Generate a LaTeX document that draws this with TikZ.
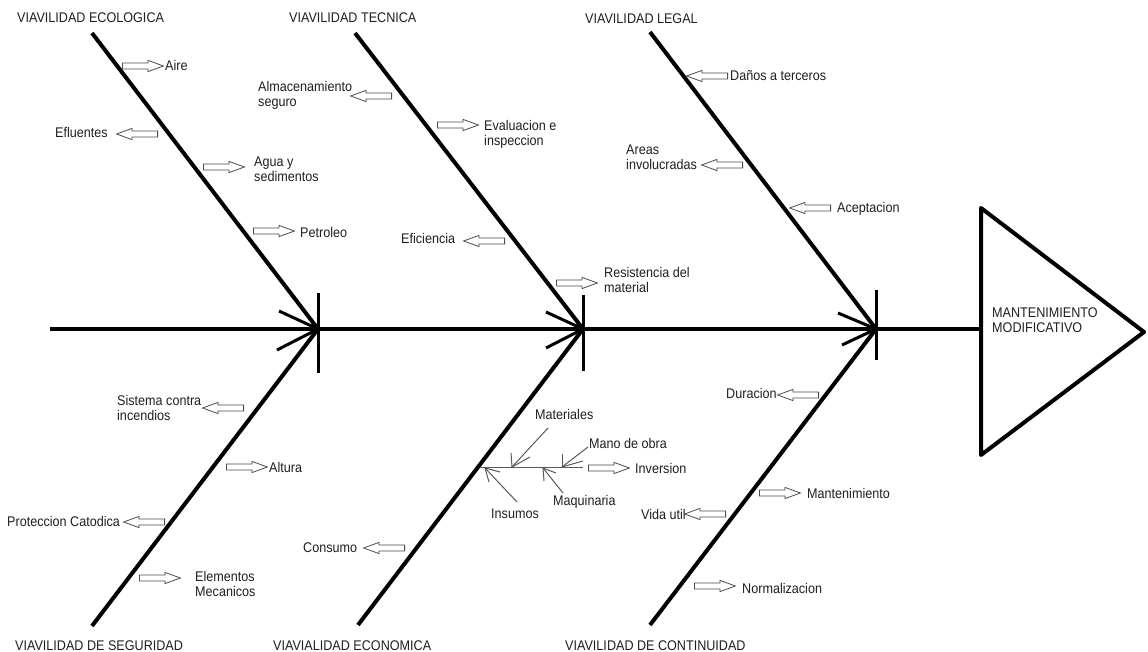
\documentclass[tikz,border=0pt]{standalone}
\usepackage{fontspec}
\setmainfont{Liberation Sans}[FakeStretch=0.9]
\usetikzlibrary{shapes.arrows}
\begin{document}
\begin{tikzpicture}[x=1pt,y=-1pt,
  bone/.style={line width=4pt},
  barb/.style={line width=3pt},
  subbone/.style={line width=1pt, draw=black!65},
  lbl/.style={anchor=base west, inner sep=0pt, text=black!88, font=\fontsize{14}{15}\selectfont, align=left},
  blk/.style={single arrow, draw=black!70, fill=white, line width=0.8pt, minimum height=41pt, inner xsep=0pt, inner ysep=2.6pt, single arrow head extend=2.6pt, single arrow tip angle=40, anchor=tail},
  blkL/.style={blk, shape border rotate=180}]
\useasboundingbox (0,0) rectangle (1148,652);
\fill[white] (0,0) rectangle (1148,652);
% coordinates
\coordinate (S0) at (50,329);
\coordinate (TL) at (981,329);
\coordinate (TA) at (981,208);
\coordinate (TB) at (1144,332);
\coordinate (TC) at (981,455);
\coordinate (J1) at (318,329);
\coordinate (J2) at (583,329);
\coordinate (J3) at (876,329);
\coordinate (U1) at (92,33);
\coordinate (U2) at (355,33);
\coordinate (U3) at (650,32);
\coordinate (D1) at (92,626);
\coordinate (D2) at (358,625);
\coordinate (D3) at (650,625);
% spine and triangle
\draw[bone] (S0) -- (TL);
\draw[bone, line join=round] (TA) -- (TB) -- (TC) -- cycle;
% bones
\draw[bone] (U1) -- (J1);
\draw[bone] (U2) -- (J2);
\draw[bone] (U3) -- (J3);
\draw[bone] (D1) -- (J1);
\draw[bone] (D2) -- (J2);
\draw[bone] (D3) -- (J3);
% ticks and barbs
\coordinate (J1t) at (318,293); \coordinate (J1d) at (318,373);
\coordinate (J2t) at (583,295); \coordinate (J2d) at (583,371);
\coordinate (J3t) at (876,290); \coordinate (J3d) at (876,360);
\draw[barb] (J1t) -- (J1d);
\draw[barb] (J2t) -- (J2d);
\draw[barb] (J3t) -- (J3d);
\coordinate (J1a) at (279,311); \coordinate (J1b) at (277,350);
\coordinate (J2a) at (546,312); \coordinate (J2b) at (546,348);
\coordinate (J3a) at (838,313); \coordinate (J3b) at (842,345);
\draw[barb] (J1a) -- (J1); \draw[barb] (J1b) -- (J1);
\draw[barb] (J2a) -- (J2); \draw[barb] (J2b) -- (J2);
\draw[barb] (J3a) -- (J3); \draw[barb] (J3b) -- (J3);
% sub fishbone (economica)
\coordinate (E0) at (480,467);
\coordinate (E1) at (583,467);
\draw[subbone] (E0) -- (E1);
\coordinate (MtA) at (548,428); \coordinate (MtT) at (512,467);
\coordinate (MtB1) at (511,453); \coordinate (MtB2) at (530,457);
\draw[subbone] (MtA) -- (MtT); \draw[subbone] (MtB1) -- (MtT); \draw[subbone] (MtB2) -- (MtT);
\coordinate (MoA) at (588,447); \coordinate (MoT) at (562,467);
\coordinate (MoB1) at (562,454); \coordinate (MoB2) at (583,461);
\draw[subbone] (MoA) -- (MoT); \draw[subbone] (MoB1) -- (MoT); \draw[subbone] (MoB2) -- (MoT);
\coordinate (InA) at (517,502); \coordinate (InT) at (485,468);
\coordinate (InB1) at (489,482); \coordinate (InB2) at (500,472);
\draw[subbone] (InA) -- (InT); \draw[subbone] (InB1) -- (InT); \draw[subbone] (InB2) -- (InT);
\coordinate (MqA) at (563,493); \coordinate (MqT) at (543,468);
\coordinate (MqB1) at (544,481); \coordinate (MqB2) at (556,473);
\draw[subbone] (MqA) -- (MqT); \draw[subbone] (MqB1) -- (MqT); \draw[subbone] (MqB2) -- (MqT);
% block arrows (placed by their tail)
\node[blk]  (aAire) at (122,66) {};
\node[blkL] (aEflu) at (158,134) {};
\node[blk]  (aAgua) at (203,167) {};
\node[blk]  (aPetr) at (253,231) {};
\node[blkL] (aAlma) at (392,96) {};
\node[blk]  (aEval) at (437,125) {};
\node[blkL] (aEfic) at (505,241) {};
\node[blk]  (aResi) at (556,283) {};
\node[blkL] (aDano) at (728,76) {};
\node[blkL] (aArea) at (743,165) {};
\node[blkL] (aAcep) at (831,208) {};
\node[blkL] (aSist) at (244,408) {};
\node[blk]  (aAltu) at (226,467) {};
\node[blkL] (aProt) at (165,522) {};
\node[blk]  (aElem) at (139,578) {};
\node[blkL] (aCons) at (405,548) {};
\node[blk]  (aInve) at (588,468) {};
\node[blkL] (aDura) at (819,395) {};
\node[blk]  (aMant) at (759,493) {};
\node[blkL] (aVida) at (726,514) {};
\node[blk]  (aNorm) at (694,586) {};
% category labels
\node[lbl] (cEco) at (17,23) {VIAVILIDAD ECOLOGICA};
\node[lbl] (cTec) at (289,23) {VIAVILIDAD TECNICA};
\node[lbl] (cLeg) at (585,24) {VIAVILIDAD LEGAL};
\node[lbl] (cSeg) at (15,650) {VIAVILIDAD DE SEGURIDAD};
\node[lbl] (cEcn) at (273,650) {VIAVIALIDAD ECONOMICA};
\node[lbl] (cCon) at (565,650) {VIAVILIDAD DE CONTINUIDAD};
\node[lbl] (cEff) at (992,332) {MANTENIMIENTO\\MODIFICATIVO};
% item labels
\node[lbl] (tAire) at (165,71) {Aire};
\node[lbl] (tEflu) at (55,138) {Efluentes};
\node[lbl] (tAgua) at (254,182) {Agua y\\sedimentos};
\node[lbl] (tPetr) at (300,238) {Petroleo};
\node[lbl] (tAlma) at (258,107) {Almacenamiento\\seguro};
\node[lbl] (tEval) at (484,146) {Evaluacion e\\inspeccion};
\node[lbl] (tEfic) at (401,244) {Eficiencia};
\node[lbl] (tResi) at (604,292) {Resistencia del\\material};
\node[lbl] (tDano) at (730,81) {Daños a terceros};
\node[lbl] (tArea) at (626,170) {Areas\\involucradas};
\node[lbl] (tAcep) at (837,213) {Aceptacion};
\node[lbl] (tSist) at (117,420) {Sistema contra\\incendios};
\node[lbl] (tAltu) at (269,472) {Altura};
\node[lbl] (tProt) at (7,526) {Proteccion Catodica};
\node[lbl] (tElem) at (195,596) {Elementos\\Mecanicos};
\node[lbl] (tCons) at (303,552) {Consumo};
\node[lbl] (tMate) at (535,419) {Materiales};
\node[lbl] (tMano) at (589,448) {Mano de obra};
\node[lbl] (tInve) at (635,473) {Inversion};
\node[lbl] (tMaqu) at (553,505) {Maquinaria};
\node[lbl] (tInsu) at (491,518) {Insumos};
\node[lbl] (tVida) at (641,519) {Vida util};
\node[lbl] (tDura) at (726,398) {Duracion};
\node[lbl] (tMant) at (807,498) {Mantenimiento};
\node[lbl] (tNorm) at (742,593) {Normalizacion};
\end{tikzpicture}
\end{document}
